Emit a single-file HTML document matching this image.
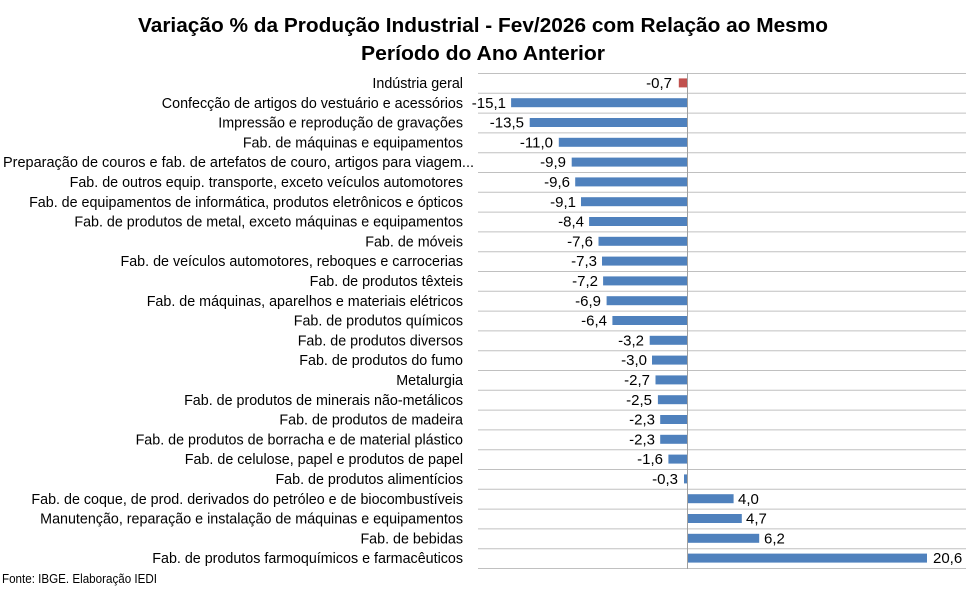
<!DOCTYPE html>
<html><head><meta charset="utf-8"><style>
body{margin:0;background:#fff}
svg{display:block;font-family:"Liberation Sans",sans-serif}
.l{font-size:14.3px;fill:#000;text-anchor:end}
.v{font-size:15px;fill:#000}
</style></head><body>
<svg width="966" height="589" viewBox="0 0 966 589" xmlns="http://www.w3.org/2000/svg">
<text x="483" y="32" text-anchor="middle" font-weight="bold" font-size="20" textLength="690" lengthAdjust="spacingAndGlyphs">Variação % da Produção Industrial - Fev/2026 com Relação ao Mesmo</text>
<text x="483" y="60" text-anchor="middle" font-weight="bold" font-size="20" textLength="244" lengthAdjust="spacingAndGlyphs">Período do Ano Anterior</text>
<g stroke="#c0c0c0" stroke-width="1">
<line x1="478" x2="966" y1="73.5" y2="73.5"/><line x1="478" x2="966" y1="93.3" y2="93.3"/><line x1="478" x2="966" y1="113.1" y2="113.1"/><line x1="478" x2="966" y1="132.9" y2="132.9"/><line x1="478" x2="966" y1="152.7" y2="152.7"/><line x1="478" x2="966" y1="172.5" y2="172.5"/><line x1="478" x2="966" y1="192.3" y2="192.3"/><line x1="478" x2="966" y1="212.1" y2="212.1"/><line x1="478" x2="966" y1="231.9" y2="231.9"/><line x1="478" x2="966" y1="251.7" y2="251.7"/><line x1="478" x2="966" y1="271.5" y2="271.5"/><line x1="478" x2="966" y1="291.3" y2="291.3"/><line x1="478" x2="966" y1="311.1" y2="311.1"/><line x1="478" x2="966" y1="330.9" y2="330.9"/><line x1="478" x2="966" y1="350.7" y2="350.7"/><line x1="478" x2="966" y1="370.5" y2="370.5"/><line x1="478" x2="966" y1="390.3" y2="390.3"/><line x1="478" x2="966" y1="410.1" y2="410.1"/><line x1="478" x2="966" y1="429.9" y2="429.9"/><line x1="478" x2="966" y1="449.7" y2="449.7"/><line x1="478" x2="966" y1="469.5" y2="469.5"/><line x1="478" x2="966" y1="489.3" y2="489.3"/><line x1="478" x2="966" y1="509.1" y2="509.1"/><line x1="478" x2="966" y1="528.9" y2="528.9"/><line x1="478" x2="966" y1="548.7" y2="548.7"/><line x1="478" x2="966" y1="568.5" y2="568.5"/>
</g>
<g fill="#4f81bd">
<rect x="678.8" y="78.4" width="8.2" height="9" fill="#c0504d"/>
<rect x="511.1" y="98.2" width="175.9" height="9"/>
<rect x="529.7" y="118" width="157.3" height="9"/>
<rect x="558.8" y="137.8" width="128.2" height="9"/>
<rect x="571.7" y="157.6" width="115.3" height="9"/>
<rect x="575.2" y="177.4" width="111.8" height="9"/>
<rect x="581" y="197.2" width="106" height="9"/>
<rect x="589.1" y="217" width="97.9" height="9"/>
<rect x="598.5" y="236.8" width="88.5" height="9"/>
<rect x="602" y="256.6" width="85" height="9"/>
<rect x="603.1" y="276.4" width="83.9" height="9"/>
<rect x="606.6" y="296.2" width="80.4" height="9"/>
<rect x="612.4" y="316" width="74.6" height="9"/>
<rect x="649.7" y="335.8" width="37.3" height="9"/>
<rect x="652" y="355.6" width="35" height="9"/>
<rect x="655.5" y="375.4" width="31.5" height="9"/>
<rect x="657.9" y="395.2" width="29.1" height="9"/>
<rect x="660.2" y="415" width="26.8" height="9"/>
<rect x="660.2" y="434.8" width="26.8" height="9"/>
<rect x="668.4" y="454.6" width="18.6" height="9"/>
<rect x="684" y="474.4" width="3" height="9"/>
<rect x="687" y="494.2" width="46.6" height="9"/>
<rect x="687" y="514" width="54.8" height="9"/>
<rect x="687" y="533.8" width="72.2" height="9"/>
<rect x="687" y="553.6" width="240" height="9"/>
</g>
<line x1="687.5" x2="687.5" y1="73" y2="569" stroke="#a0a0a0"/>
<g class="l">
<text x="463" y="88">Indústria geral</text>
<text x="463" y="107.8">Confecção de artigos do vestuário e acessórios</text>
<text x="463" y="127.6">Impressão e reprodução de gravações</text>
<text x="463" y="147.4">Fab. de máquinas e equipamentos</text>
<text x="474" y="167.2" textLength="471" lengthAdjust="spacingAndGlyphs">Preparação de couros e fab. de artefatos de couro, artigos para viagem...</text>
<text x="463" y="187">Fab. de outros equip. transporte, exceto veículos automotores</text>
<text x="463" y="206.8">Fab. de equipamentos de informática, produtos eletrônicos e ópticos</text>
<text x="463" y="226.6">Fab. de produtos de metal, exceto máquinas e equipamentos</text>
<text x="463" y="246.4">Fab. de móveis</text>
<text x="463" y="266.2">Fab. de veículos automotores, reboques e carrocerias</text>
<text x="463" y="286">Fab. de produtos têxteis</text>
<text x="463" y="305.8">Fab. de máquinas, aparelhos e materiais elétricos</text>
<text x="463" y="325.6">Fab. de produtos químicos</text>
<text x="463" y="345.4">Fab. de produtos diversos</text>
<text x="463" y="365.2">Fab. de produtos do fumo</text>
<text x="463" y="385">Metalurgia</text>
<text x="463" y="404.8">Fab. de produtos de minerais não-metálicos</text>
<text x="463" y="424.6">Fab. de produtos de madeira</text>
<text x="463" y="444.4">Fab. de produtos de borracha e de material plástico</text>
<text x="463" y="464.2">Fab. de celulose, papel e produtos de papel</text>
<text x="463" y="484">Fab. de produtos alimentícios</text>
<text x="463" y="503.8">Fab. de coque, de prod. derivados do petróleo e de biocombustíveis</text>
<text x="463" y="523.6">Manutenção, reparação e instalação de máquinas e equipamentos</text>
<text x="463" y="543.4">Fab. de bebidas</text>
<text x="463" y="563.2">Fab. de produtos farmoquímicos e farmacêuticos</text>
</g>
<g class="v" text-anchor="end">
<text x="672" y="88">-0,7</text>
<text x="506" y="107.8">-15,1</text>
<text x="524" y="127.6">-13,5</text>
<text x="553" y="147.4">-11,0</text>
<text x="566" y="167.2">-9,9</text>
<text x="570" y="187">-9,6</text>
<text x="576" y="206.8">-9,1</text>
<text x="584" y="226.6">-8,4</text>
<text x="593" y="246.4">-7,6</text>
<text x="597" y="266.2">-7,3</text>
<text x="598" y="286">-7,2</text>
<text x="601" y="305.8">-6,9</text>
<text x="607" y="325.6">-6,4</text>
<text x="644" y="345.4">-3,2</text>
<text x="647" y="365.2">-3,0</text>
<text x="650" y="385">-2,7</text>
<text x="652" y="404.8">-2,5</text>
<text x="655" y="424.6">-2,3</text>
<text x="655" y="444.4">-2,3</text>
<text x="663" y="464.2">-1,6</text>
<text x="678" y="484">-0,3</text>
</g>
<g class="v">
<text x="738" y="503.8">4,0</text>
<text x="746" y="523.6">4,7</text>
<text x="764" y="543.4">6,2</text>
<text x="933" y="563.2">20,6</text>
</g>
<text x="2" y="583" font-size="13" textLength="155" lengthAdjust="spacingAndGlyphs">Fonte: IBGE. Elaboração IEDI</text>
</svg>
</body></html>
